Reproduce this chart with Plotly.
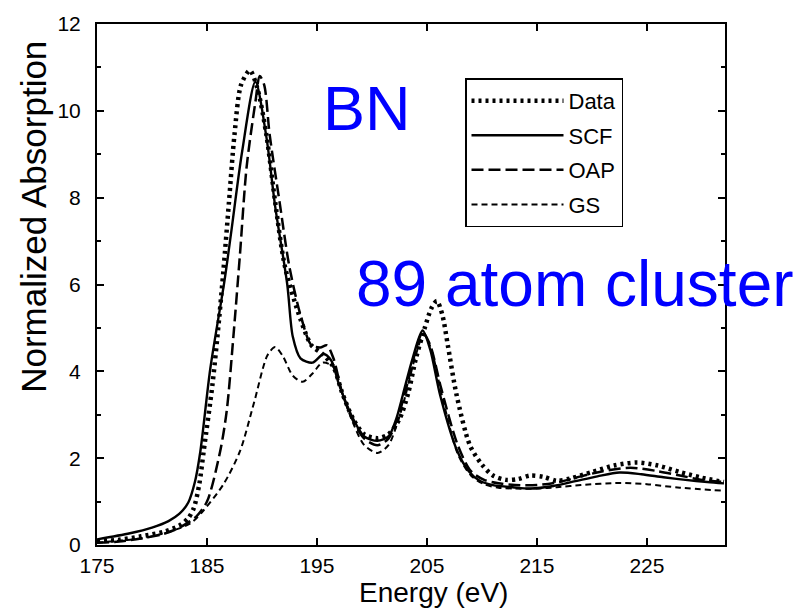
import plotly.graph_objects as go

# ---- data ----
data_e = [175, 177, 179, 181, 182.5, 183.3, 183.8, 184.3, 184.7, 185.5, 186.1, 186.5, 187.0, 187.5, 188.1, 188.9,
          189.6, 190.4, 191.2, 192.1, 193.5, 194.5, 195.5, 196.5, 197.3, 198.3, 199.3, 200.5, 201.5, 202.5,
          203.3, 204.0, 204.8, 205.4, 205.9, 206.4, 206.9, 207.7, 208.9, 210.0, 211.0, 212.2, 213.3, 214.4,
          215.6, 216.8, 218.0, 220.0, 222.0, 224.1, 226.0, 228.0, 230.0, 232.0]
data_y = [0.08, 0.12, 0.2, 0.3, 0.45, 0.62, 0.85, 1.4, 2.16, 3.7, 5.2, 6.34, 7.9, 9.45, 10.6, 10.93,
          10.5, 9.45, 7.9, 6.4, 5.2, 4.6, 4.4, 4.1, 3.5, 2.9, 2.55, 2.46, 2.55, 2.9,
          3.5, 4.3, 5.0, 5.45, 5.62, 5.3, 4.6, 3.45, 2.3, 1.85, 1.6, 1.5, 1.52, 1.6,
          1.57, 1.48, 1.53, 1.68, 1.83, 1.9, 1.83, 1.68, 1.55, 1.45]

scf_e = [175, 178, 180, 181.5, 182.5, 183.3, 183.9, 184.4, 185.3, 186.6, 187.2, 188.2, 189.4, 190.4, 191.2, 192.3,
         192.8, 193.5, 194.6, 195.6, 196.3, 197.0, 198.3, 199.3, 200.5, 201.5, 202.2, 202.8, 203.7, 204.6,
         205.3, 206.2, 207.7, 208.8, 209.8, 211.0, 212.8, 214.4, 216.5, 218.5, 220.5, 222.5, 224.5, 226.5,
         228.5, 230.5, 232.0]
scf_y = [0.13, 0.27, 0.4, 0.55, 0.72, 0.98, 1.45, 2.16, 4.06, 6.1, 7.2, 9.07, 10.67, 9.4, 7.8, 6.0,
         4.8, 4.3, 4.2, 4.4, 4.25, 3.7, 2.9, 2.5, 2.4, 2.5, 2.9, 3.45, 4.3, 4.94,
         4.5, 3.45, 2.2, 1.7, 1.48, 1.38, 1.33, 1.3, 1.36, 1.47, 1.58, 1.67, 1.63, 1.56,
         1.5, 1.45, 1.42]

oap_e = [175, 177, 179, 181, 182.5, 184, 185, 186.2, 186.8, 187.4, 188.0, 188.6, 189.4, 189.8, 190.2,
         190.7, 191.6, 192.5, 193.5, 194.5, 195.3, 195.9, 196.5, 197.3, 198.3, 199.3, 200.5, 201.5,
         202.3, 203.0, 203.9, 204.6, 205.3, 206.3, 207.8, 209.0, 210.2, 211.5, 213.0, 215.0, 217.0,
         219.0, 221.0, 223.5, 226.0, 228.0, 230.0, 232.0]
oap_y = [0.05, 0.08, 0.15, 0.25, 0.4, 0.65, 1.0, 2.16, 3.1, 4.8, 6.7, 8.7, 10.2, 10.8, 10.6,
         9.45, 7.9, 6.4, 5.3, 4.6, 4.55, 4.6, 4.3, 3.5, 2.85, 2.45, 2.3, 2.45,
         2.9, 3.5, 4.4, 4.9, 4.6, 3.6, 2.3, 1.7, 1.5, 1.42, 1.38, 1.38, 1.45,
         1.58, 1.7, 1.78, 1.7, 1.6, 1.5, 1.45]

gs_e = [175, 177, 179, 181.5, 183.5, 184.7, 186.5, 188.0, 189.3, 190.5, 191.2, 191.9, 192.8, 193.7,
        194.6, 195.5, 196.5, 197.3, 198.3, 199.3, 200.5, 201.5, 202.3, 203.0, 203.9, 204.7, 205.4,
        206.4, 207.8, 209.0, 210.2, 211.5, 213.0, 215.0, 216.8, 219.0, 222.5, 225.0, 228.0, 232.0]
gs_y = [0.05, 0.1, 0.15, 0.3, 0.5, 0.8, 1.4, 2.16, 3.3, 4.37, 4.56, 4.35, 3.9, 3.76,
        3.95, 4.2, 4.1, 3.5, 2.8, 2.3, 2.12, 2.3, 2.8, 3.4, 4.3, 4.85, 4.5,
        3.4, 2.1, 1.6, 1.4, 1.32, 1.3, 1.3, 1.33, 1.38, 1.43, 1.4, 1.32, 1.25]

x_ticks = [175, 185, 195, 205, 215, 225]
y_ticks = [0, 2, 4, 6, 8, 10, 12]

FONT = "Liberation Sans, Arial, Helvetica, sans-serif"

fig = go.Figure()
fig.add_trace(go.Scatter(x=data_e, y=data_y, name="Data", mode="lines",
                         line=dict(color="black", width=4.5, dash="3px,4px", shape="spline", smoothing=0.8),
                         legendgroup="a"))
fig.add_trace(go.Scatter(x=scf_e, y=scf_y, name="SCF", mode="lines",
                         line=dict(color="black", width=2.4, shape="spline", smoothing=0.8),
                         legendgroup="b"))
fig.add_trace(go.Scatter(x=oap_e, y=oap_y, name="OAP", mode="lines",
                         line=dict(color="black", width=2.5, dash="12px,5px", shape="spline", smoothing=0.8),
                         legendgroup="c"))
fig.add_trace(go.Scatter(x=gs_e, y=gs_y, name="GS", mode="lines",
                         line=dict(color="black", width=2, dash="6px,4px", shape="spline", smoothing=0.8),
                         legendgroup="d"))

axis_common = dict(showline=True, linecolor="black", linewidth=2, mirror="ticks",
                   ticks="inside", tickcolor="black", tickwidth=1.5, ticklen=7,
                   showgrid=False, zeroline=False,
                   tickfont=dict(family=FONT, size=21, color="black"))

fig.update_xaxes(range=[175, 232.1], tickvals=x_ticks, ticktext=[str(v) for v in x_ticks],
                 ticklabelstandoff=1, **axis_common)
fig.update_yaxes(range=[0, 12], tickvals=y_ticks, ticktext=[str(v) for v in y_ticks],
                 minor=dict(ticks="inside", ticklen=4, dtick=1, tickcolor="black", tickwidth=1.5),
                 ticklabelstandoff=10, **axis_common)

fig.update_layout(
    width=806, height=608,
    margin=dict(l=97, r=81, t=18, b=63, pad=0),
    paper_bgcolor="white", plot_bgcolor="white",
    font=dict(family=FONT, color="black"),
    showlegend=True,
    legend=dict(x=(465 - 97) / 628, y=(545 - 73) / 527, xanchor="left", yanchor="top",
                bgcolor="white", bordercolor="black", borderwidth=1.5,
                font=dict(family=FONT, size=22, color="black"),
                itemwidth=92, tracegroupgap=3),
    annotations=[
        dict(text="BN", xref="paper", yref="paper", x=(367 - 97) / 628, y=(545 - 103) / 527,
             xanchor="center", yanchor="middle", showarrow=False,
             font=dict(family=FONT, size=63, color="#0000FF")),
        dict(text="89 atom cluster", xref="paper", yref="paper", x=(354 - 97) / 628, y=(545 - 281) / 527,
             xanchor="left", yanchor="middle", showarrow=False,
             font=dict(family=FONT, size=64, color="#0000FF")),
        dict(text="Energy (eV)", xref="paper", yref="paper", x=(433 - 97) / 628, y=(545 - 593) / 527,
             xanchor="center", yanchor="middle", showarrow=False,
             font=dict(family=FONT, size=28, color="black")),
        dict(text="Normalized Absorption", xref="paper", yref="paper", x=(34 - 97) / 628, y=(545 - 213) / 527,
             xanchor="center", yanchor="middle", showarrow=False, textangle=-90,
             font=dict(family=FONT, size=35, color="black")),
    ],
)

fig.write_html("out.html")
